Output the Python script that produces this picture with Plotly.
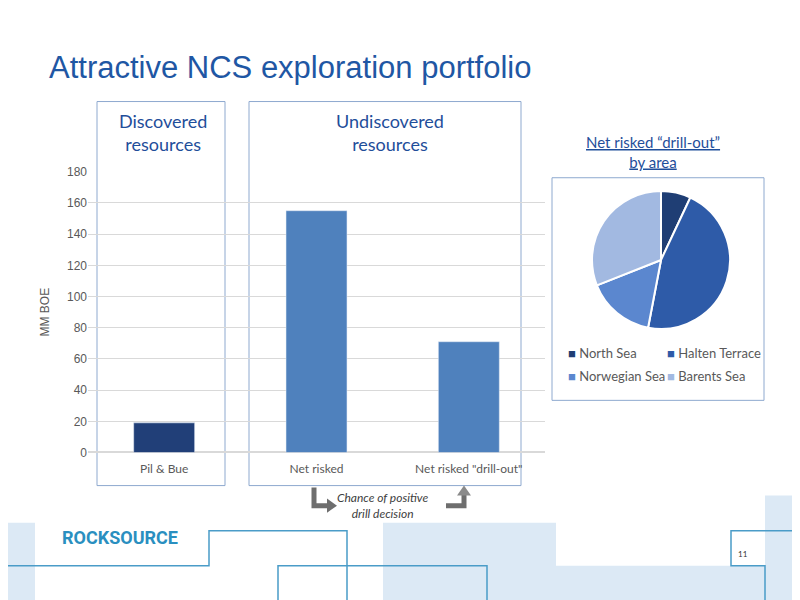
import plotly.graph_objects as go

categories = ["Pil & Bue", "Net risked", 'Net risked "drill-out"']
values = [19, 155, 71]
bar_colors = ["#213F78", "#4F81BD", "#4F81BD"]
areas = ["North Sea", "Halten Terrace", "Norwegian Sea", "Barents Sea"]
shares = [7, 46, 16, 31]
pie_colors = ["#1F3E74", "#2E5BA8", "#5B87CF", "#A2B9E1"]
yticks = [0, 20, 40, 60, 80, 100, 120, 140, 160, 180]

W, H = 800, 600
def px(x): return (x - 8) / W
def py(y): return 1 - ((y - 15.7) / 0.974) / H

fig = go.Figure()
fig.add_trace(go.Bar(x=categories, y=values, marker_color=bar_colors, width=0.4,
                     xaxis="x", yaxis="y", showlegend=False))
fig.add_trace(go.Pie(labels=areas, values=shares, marker=dict(colors=pie_colors, line=dict(color="white", width=2)),
                     sort=False, direction="clockwise", rotation=0, textinfo="none", showlegend=False,
                     domain=dict(x=[px(592), px(730)], y=[py(329), py(191)])))

fig.update_layout(
    width=W, height=H, margin=dict(l=0, r=0, t=0, b=0),
    paper_bgcolor="white", plot_bgcolor="white",
    font=dict(family="Lato, sans-serif"),
    xaxis=dict(domain=[px(88), px(545)], tickfont=dict(size=12, color="#595959", family="Lato"),
               showline=False, ticks="", ticklabelstandoff=8),
    yaxis=dict(domain=[py(452), py(172)], range=[0, 180], tickvals=yticks,
               tickfont=dict(size=12, color="#595959", family="Arial"),
               gridcolor="#D9D9D9", zeroline=True, zerolinecolor="#D9D9D9", ticks="",
               title=dict(text="MM BOE", font=dict(size=12, color="#595959", family="Arial"), standoff=14)),
)

shapes = []
def rect(x0, y0, x1, y1, fill=None, line=None, lw=1):
    shapes.append(dict(type="rect", xref="paper", yref="paper", x0=px(x0), x1=px(x1), y0=py(y1), y1=py(y0),
                       fillcolor=fill or "rgba(0,0,0,0)", line=dict(color=line or "rgba(0,0,0,0)", width=lw if line else 0),
                       layer="below"))
lb = "#DCE9F5"
rect(0, 522, 35, 610, fill=lb)
rect(383, 522, 556, 610, fill=lb)
rect(556, 565, 765, 610, fill=lb)
rect(765, 495, 810, 610, fill=lb)
rect(97, 102, 225, 485, line="#8EA9CF")
rect(249, 102, 521, 485, line="#8EA9CF")
rect(552, 178, 764, 400, line="#8EA9CF")

def path(pts, color="#4A9CC8", w=1.5):
    d = "M " + " L ".join(f"{px(x)},{py(y)}" for x, y in pts)
    shapes.append(dict(type="path", xref="paper", yref="paper", path=d, line=dict(color=color, width=w)))
path([(0, 565), (209, 565), (209, 530), (347, 530), (347, 610)])
path([(278, 610), (278, 565), (487, 565), (487, 610)])
path([(810, 530), (731, 530), (731, 565), (765, 565), (765, 610)])
path([(314, 487), (314, 505), (328, 505)], color="#6E6E6E", w=5)
shapes.append(dict(type="path", xref="paper", yref="paper", fillcolor="#6E6E6E", line=dict(width=0),
                   path=f"M {px(327)},{py(498)} L {px(337)},{py(505)} L {px(327)},{py(512)} Z"))
path([(446, 505), (464, 505), (464, 494)], color="#6E6E6E", w=5)
shapes.append(dict(type="path", xref="paper", yref="paper", fillcolor="#8A8A8A", line=dict(width=0),
                   path=f"M {px(457)},{py(495)} L {px(464)},{py(485)} L {px(471)},{py(495)} Z"))
fig.update_layout(shapes=shapes)

ann = []
def text(x, y, t, size, color, family="Lato", xanchor="center", **kw):
    ann.append(dict(x=px(x), y=py(y), xref="paper", yref="paper", text=t, showarrow=False,
                    xanchor=xanchor, yanchor="middle", font=dict(size=size, color=color, family=family), **kw))
text(47, 68, "Attractive NCS exploration portfolio", 31, "#1F57A4", family="Arial", xanchor="left")
text(163, 133, "Discovered<br>resources", 18, "#1F4E9A")
text(390, 133, "Undiscovered<br>resources", 18, "#1F4E9A")
text(653, 152, "<u>Net risked “drill-out”</u><br><u>by area</u>", 15, "#1F4E9A")
text(382, 505, "<i>Chance of positive<br>drill decision</i>", 12, "#404040")
text(60, 537, "<b>ROCKSOURCE</b>", 18, "#2A8FC0", family="Roboto", xanchor="left")
text(743, 553, "11", 8, "#333333", xanchor="center")
leg_pos = [(566, 353), (665, 353), (566, 376), (665, 376)]
for (lx, ly), lab, col in zip(leg_pos, areas, pie_colors):
    text(lx, ly, f"<span style='color:{col}'>■</span> {lab}", 13, "#595959", xanchor="left")
fig.update_layout(annotations=ann)

fig.write_html("out.html")
